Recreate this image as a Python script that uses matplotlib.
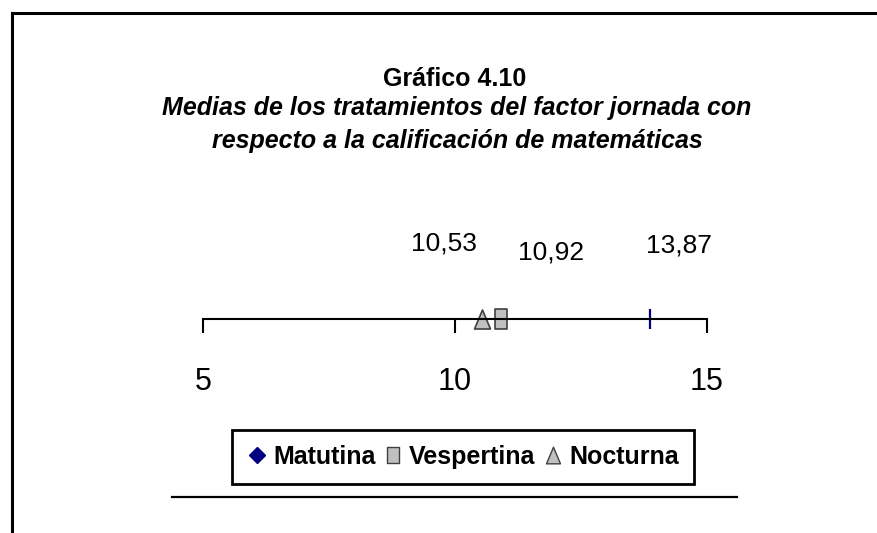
import matplotlib
matplotlib.use("Agg")
import matplotlib.pyplot as plt
from matplotlib.lines import Line2D
from matplotlib.path import Path

plt.rcParams['font.family'] = ['Liberation Sans', 'DejaVu Sans']

# datos
jornadas = ["Matutina", "Vespertina", "Nocturna"]
medias = [13.87, 10.92, 10.53]
etiquetas = ["13,87", "10,92", "10,53"]
ticks = [5, 10, 15]

W, H = 877, 533
fig = plt.figure(figsize=(W / 100, H / 100), dpi=100)

def fy(py):
    return 1 - py / H

# marco (solo izquierda y arriba)
fig.add_artist(Line2D([12 / W, 12 / W], [0, fy(13)], color="black", lw=2.2, transform=fig.transFigure))
fig.add_artist(Line2D([12 / W, 1], [fy(13), fy(13)], color="black", lw=2.2, transform=fig.transFigure))

# titulo
fig.text(455 / W, fy(86), "Gráfico 4.10", ha="center", va="baseline", fontsize=18, fontweight="bold")
fig.text(457 / W, fy(115), "Medias de los tratamientos del factor jornada con",
         ha="center", va="baseline", fontsize=18, fontweight="bold", fontstyle="italic")
fig.text(457 / W, fy(148), "respecto a la calificación de matemáticas",
         ha="center", va="baseline", fontsize=18, fontweight="bold", fontstyle="italic")

# eje
ax = fig.add_axes([203 / W, fy(338.5), 504 / W, 40 / H])
ax.set_xlim(5, 15)
ax.set_ylim(-1, 1)
for s in ["top", "left", "right"]:
    ax.spines[s].set_visible(False)
ax.spines["bottom"].set_position(("data", 0))
ax.spines["bottom"].set_linewidth(1.5)
ax.set_yticks([])
ax.set_xticks(ticks)
ax.set_xticklabels([str(t) for t in ticks])
ax.tick_params(axis="x", direction="out", length=10, width=1.5, pad=25, labelsize=22)
ax.patch.set_alpha(0)

rect = Path([(-0.34, -0.5), (0.34, -0.5), (0.34, 0.5), (-0.34, 0.5), (-0.34, -0.5)],
            [Path.MOVETO, Path.LINETO, Path.LINETO, Path.LINETO, Path.CLOSEPOLY])
tri = Path([(-0.42, -0.5), (0.42, -0.5), (0, 0.5), (-0.42, -0.5)],
           [Path.MOVETO, Path.LINETO, Path.LINETO, Path.CLOSEPOLY])

ax.plot([medias[0]], [0], marker="|", color="#000080", markersize=13.7, mew=1.6,
        linestyle="none", clip_on=False)
ax.plot([medias[1]], [0], marker=rect, markersize=13.7, markerfacecolor="#c0c0c0",
        markeredgecolor="#404040", mew=1.2, linestyle="none", clip_on=False)
ax.plot([medias[2]], [0], marker=tri, markersize=13.7, markerfacecolor="#c0c0c0",
        markeredgecolor="#404040", mew=1.2, linestyle="none", clip_on=False)

# etiquetas de datos (desplazamiento en pixeles)
offsets = [(29, 73), (50, 66), (-38, 75)]
for x, lab, (dx, dy) in zip(medias, etiquetas, offsets):
    ax.annotate(lab, (x, 0), xytext=(dx * 0.72, dy * 0.72), textcoords="offset points",
                ha="center", va="center", fontsize=19, annotation_clip=False)

# leyenda
handles = [
    Line2D([], [], marker="D", color="#000080", markersize=8.5, linestyle="none"),
    Line2D([], [], marker=rect, markersize=12, markerfacecolor="#c0c0c0",
           markeredgecolor="#404040", mew=1, linestyle="none"),
    Line2D([], [], marker=tri, markersize=12, markerfacecolor="#c0c0c0",
           markeredgecolor="#404040", mew=1, linestyle="none"),
]
leg = fig.legend(handles, jornadas, loc="center", bbox_to_anchor=(463 / W, fy(457)),
                 ncol=3, handlelength=0.8, handletextpad=0.25, columnspacing=0.3,
                 borderpad=0.6, borderaxespad=0, fancybox=False, framealpha=1,
                 prop={"size": 18, "weight": "bold"})
leg.get_frame().set_edgecolor("black")
leg.get_frame().set_linewidth(2)

fig.add_artist(Line2D([172 / W, 737 / W], [fy(497), fy(497)], color="black", lw=1.6,
                      transform=fig.transFigure))

fig.savefig("out.png", dpi=100, facecolor="white")
